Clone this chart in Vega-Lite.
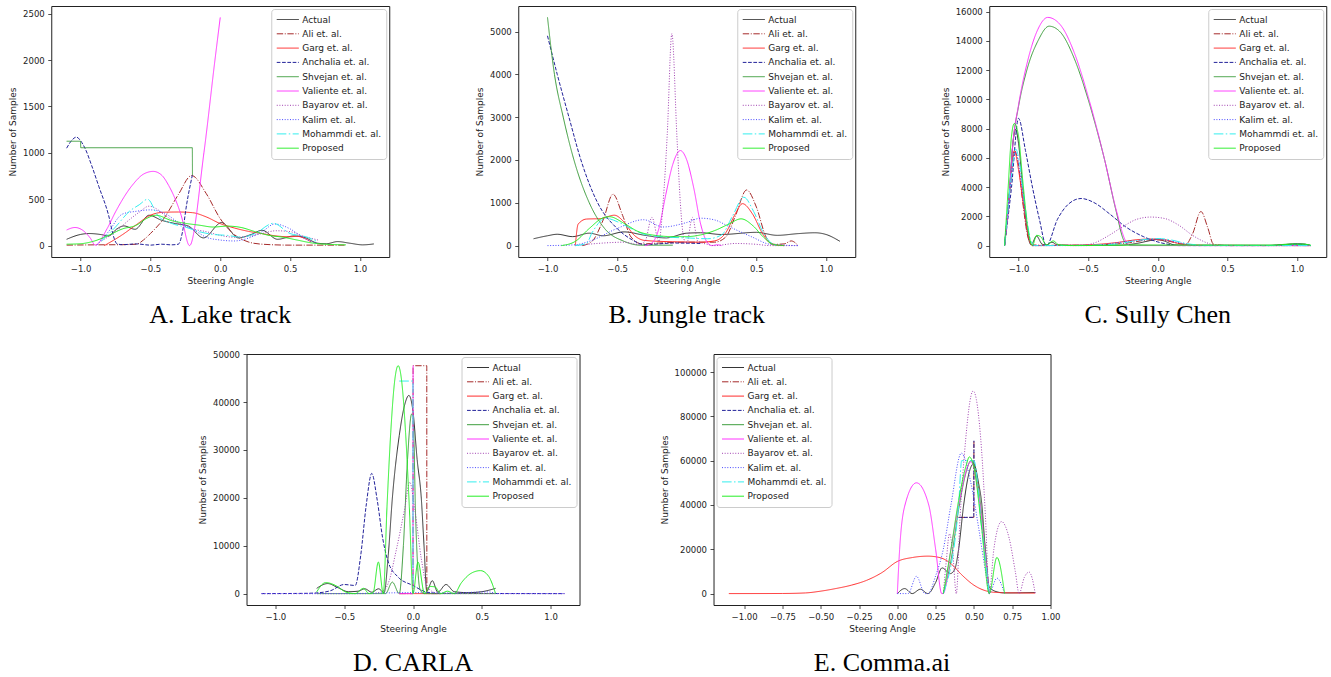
{
  "$schema": "https://vega.github.io/schema/vega-lite/v6.json",
  "background": "white",
  "padding": {"left": 8, "top": 5, "right": 5, "bottom": 0},
  "config": {
    "view": {"stroke": "#222222", "strokeWidth": 1},
    "axis": {"domain": false, "grid": false, "tickColor": "#222222", "tickSize": 3.5, "tickWidth": 0.8, "labelFont": "DejaVu Sans", "labelFontSize": 8.5, "labelColor": "#222222", "labelPadding": 3.5, "labelFlush": false, "labelOverlap": false, "labelBound": false, "titleFont": "DejaVu Sans", "titleFontSize": 9, "titleFontWeight": "normal", "titleColor": "#222222", "titlePadding": 4},
    "axisY": {"titlePadding": 5},
    "legend": {"labelFont": "DejaVu Sans", "labelFontSize": 9, "labelColor": "#222222", "symbolType": "M-1,0H3.4", "symbolSize": 100, "symbolStrokeWidth": 1.2, "rowPadding": 3.3, "padding": 5, "offset": 3, "fillColor": "rgba(255,255,255,0.85)", "strokeColor": "#cccccc", "cornerRadius": 3, "labelOffset": 15, "titlePadding": 0},
    "title": {"font": "Liberation Serif", "fontSize": 26, "fontWeight": "normal", "color": "#000000", "orient": "bottom", "offset": 16, "frame": "group", "anchor": "middle"}
  },
  "datasets": {
    "A": [
      {"s":"Actual","x":-1.1,"y":68},{"s":"Actual","x":-1.0,"y":120},{"s":"Actual","x":-0.94,"y":130},{"s":"Actual","x":-0.85,"y":118},{"s":"Actual","x":-0.8,"y":104},{"s":"Actual","x":-0.74,"y":180},{"s":"Actual","x":-0.69,"y":212},{"s":"Actual","x":-0.61,"y":176},{"s":"Actual","x":-0.51,"y":327},{"s":"Actual","x":-0.42,"y":273},{"s":"Actual","x":-0.32,"y":237},{"s":"Actual","x":-0.23,"y":212},{"s":"Actual","x":-0.12,"y":83},{"s":"Actual","x":0.01,"y":248},{"s":"Actual","x":0.13,"y":83},{"s":"Actual","x":0.22,"y":119},{"s":"Actual","x":0.3,"y":165},{"s":"Actual","x":0.41,"y":68},{"s":"Actual","x":0.53,"y":104},{"s":"Actual","x":0.6,"y":90},{"s":"Actual","x":0.7,"y":25},{"s":"Actual","x":0.76,"y":20},{"s":"Actual","x":0.84,"y":43},{"s":"Actual","x":0.93,"y":25},{"s":"Actual","x":1.02,"y":8},{"s":"Actual","x":1.1,"y":18},
      {"s":"Ali et. al.","x":-1.1,"y":5},{"s":"Ali et. al.","x":-0.9,"y":8},{"s":"Ali et. al.","x":-0.7,"y":10},{"s":"Ali et. al.","x":-0.6,"y":15},{"s":"Ali et. al.","x":-0.55,"y":60},{"s":"Ali et. al.","x":-0.5,"y":130},{"s":"Ali et. al.","x":-0.4,"y":300},{"s":"Ali et. al.","x":-0.3,"y":550},{"s":"Ali et. al.","x":-0.205,"y":755},{"s":"Ali et. al.","x":-0.1,"y":560},{"s":"Ali et. al.","x":0.0,"y":290},{"s":"Ali et. al.","x":0.1,"y":120},{"s":"Ali et. al.","x":0.2,"y":40},{"s":"Ali et. al.","x":0.3,"y":15},{"s":"Ali et. al.","x":0.5,"y":5},{"s":"Ali et. al.","x":0.9,"y":5},
      {"s":"Garg et. al.","x":-0.83,"y":0},{"s":"Garg et. al.","x":-0.7,"y":118},{"s":"Garg et. al.","x":-0.6,"y":226},{"s":"Garg et. al.","x":-0.5,"y":327},{"s":"Garg et. al.","x":-0.4,"y":360},{"s":"Garg et. al.","x":-0.3,"y":362},{"s":"Garg et. al.","x":-0.2,"y":355},{"s":"Garg et. al.","x":-0.1,"y":309},{"s":"Garg et. al.","x":0.0,"y":237},{"s":"Garg et. al.","x":0.1,"y":190},{"s":"Garg et. al.","x":0.2,"y":154},{"s":"Garg et. al.","x":0.3,"y":129},{"s":"Garg et. al.","x":0.4,"y":104},{"s":"Garg et. al.","x":0.5,"y":95},{"s":"Garg et. al.","x":0.55,"y":100},{"s":"Garg et. al.","x":0.6,"y":80},{"s":"Garg et. al.","x":0.65,"y":40},
      {"s":"Anchalia et. al.","x":-1.1,"y":1050},{"s":"Anchalia et. al.","x":-1.06,"y":1140},{"s":"Anchalia et. al.","x":-1.03,"y":1170},{"s":"Anchalia et. al.","x":-1.0,"y":1130},{"s":"Anchalia et. al.","x":-0.967,"y":1045},{"s":"Anchalia et. al.","x":-0.92,"y":860},{"s":"Anchalia et. al.","x":-0.87,"y":640},{"s":"Anchalia et. al.","x":-0.8,"y":330},{"s":"Anchalia et. al.","x":-0.76,"y":80},{"s":"Anchalia et. al.","x":-0.74,"y":20},{"s":"Anchalia et. al.","x":-0.7,"y":10},{"s":"Anchalia et. al.","x":-0.6,"y":18},{"s":"Anchalia et. al.","x":-0.5,"y":5},{"s":"Anchalia et. al.","x":-0.42,"y":15},{"s":"Anchalia et. al.","x":-0.35,"y":8},{"s":"Anchalia et. al.","x":-0.3,"y":15},{"s":"Anchalia et. al.","x":-0.27,"y":150},{"s":"Anchalia et. al.","x":-0.24,"y":450},{"s":"Anchalia et. al.","x":-0.2,"y":758},
      {"s":"Shvejan et. al.","x":-1.1,"y":1125},{"s":"Shvejan et. al.","x":-1.0,"y":1125},{"s":"Shvejan et. al.","x":-0.999,"y":1055},{"s":"Shvejan et. al.","x":-0.2,"y":1055},{"s":"Shvejan et. al.","x":-0.199,"y":760},
      {"s":"Valiente et. al.","x":-1.1,"y":168},{"s":"Valiente et. al.","x":-1.04,"y":195},{"s":"Valiente et. al.","x":-0.98,"y":160},{"s":"Valiente et. al.","x":-0.93,"y":80},{"s":"Valiente et. al.","x":-0.895,"y":5},{"s":"Valiente et. al.","x":-0.81,"y":183},{"s":"Valiente et. al.","x":-0.75,"y":363},{"s":"Valiente et. al.","x":-0.63,"y":650},{"s":"Valiente et. al.","x":-0.55,"y":770},{"s":"Valiente et. al.","x":-0.48,"y":800},{"s":"Valiente et. al.","x":-0.42,"y":760},{"s":"Valiente et. al.","x":-0.37,"y":650},{"s":"Valiente et. al.","x":-0.28,"y":327},{"s":"Valiente et. al.","x":-0.22,"y":0},{"s":"Valiente et. al.","x":-0.117,"y":1000},{"s":"Valiente et. al.","x":-0.038,"y":2000},{"s":"Valiente et. al.","x":0.0,"y":2460},
      {"s":"Bayarov et. al.","x":-0.85,"y":50},{"s":"Bayarov et. al.","x":-0.75,"y":150},{"s":"Bayarov et. al.","x":-0.65,"y":280},{"s":"Bayarov et. al.","x":-0.58,"y":360},{"s":"Bayarov et. al.","x":-0.51,"y":425},{"s":"Bayarov et. al.","x":-0.45,"y":390},{"s":"Bayarov et. al.","x":-0.4,"y":330},{"s":"Bayarov et. al.","x":-0.3,"y":240},{"s":"Bayarov et. al.","x":-0.2,"y":180},{"s":"Bayarov et. al.","x":-0.1,"y":150},{"s":"Bayarov et. al.","x":0.0,"y":110},{"s":"Bayarov et. al.","x":0.1,"y":90},{"s":"Bayarov et. al.","x":0.2,"y":100},{"s":"Bayarov et. al.","x":0.3,"y":130},{"s":"Bayarov et. al.","x":0.4,"y":160},{"s":"Bayarov et. al.","x":0.5,"y":150},{"s":"Bayarov et. al.","x":0.6,"y":100},{"s":"Bayarov et. al.","x":0.7,"y":60},
      {"s":"Kalim et. al.","x":-0.88,"y":10},{"s":"Kalim et. al.","x":-0.8,"y":150},{"s":"Kalim et. al.","x":-0.7,"y":340},{"s":"Kalim et. al.","x":-0.6,"y":370},{"s":"Kalim et. al.","x":-0.5,"y":385},{"s":"Kalim et. al.","x":-0.4,"y":350},{"s":"Kalim et. al.","x":-0.3,"y":250},{"s":"Kalim et. al.","x":-0.2,"y":180},{"s":"Kalim et. al.","x":-0.1,"y":90},{"s":"Kalim et. al.","x":0.0,"y":60},{"s":"Kalim et. al.","x":0.1,"y":50},{"s":"Kalim et. al.","x":0.2,"y":80},{"s":"Kalim et. al.","x":0.3,"y":150},{"s":"Kalim et. al.","x":0.39,"y":233},{"s":"Kalim et. al.","x":0.5,"y":180},{"s":"Kalim et. al.","x":0.6,"y":80},{"s":"Kalim et. al.","x":0.7,"y":20},
      {"s":"Mohammdi et. al.","x":-0.85,"y":50},{"s":"Mohammdi et. al.","x":-0.75,"y":200},{"s":"Mohammdi et. al.","x":-0.65,"y":370},{"s":"Mohammdi et. al.","x":-0.58,"y":440},{"s":"Mohammdi et. al.","x":-0.52,"y":500},{"s":"Mohammdi et. al.","x":-0.45,"y":330},{"s":"Mohammdi et. al.","x":-0.35,"y":240},{"s":"Mohammdi et. al.","x":-0.25,"y":200},{"s":"Mohammdi et. al.","x":-0.15,"y":150},{"s":"Mohammdi et. al.","x":-0.05,"y":120},{"s":"Mohammdi et. al.","x":0.05,"y":110},{"s":"Mohammdi et. al.","x":0.15,"y":90},{"s":"Mohammdi et. al.","x":0.25,"y":130},{"s":"Mohammdi et. al.","x":0.38,"y":240},{"s":"Mohammdi et. al.","x":0.5,"y":130},{"s":"Mohammdi et. al.","x":0.6,"y":100},{"s":"Mohammdi et. al.","x":0.7,"y":40},
      {"s":"Proposed","x":-1.1,"y":15},{"s":"Proposed","x":-1.0,"y":20},{"s":"Proposed","x":-0.9,"y":50},{"s":"Proposed","x":-0.8,"y":110},{"s":"Proposed","x":-0.7,"y":180},{"s":"Proposed","x":-0.6,"y":220},{"s":"Proposed","x":-0.53,"y":290},{"s":"Proposed","x":-0.46,"y":327},{"s":"Proposed","x":-0.35,"y":270},{"s":"Proposed","x":-0.25,"y":240},{"s":"Proposed","x":-0.15,"y":220},{"s":"Proposed","x":-0.05,"y":200},{"s":"Proposed","x":0.05,"y":210},{"s":"Proposed","x":0.15,"y":195},{"s":"Proposed","x":0.25,"y":150},{"s":"Proposed","x":0.35,"y":110},{"s":"Proposed","x":0.45,"y":90},{"s":"Proposed","x":0.55,"y":60},{"s":"Proposed","x":0.65,"y":30},{"s":"Proposed","x":0.75,"y":15},{"s":"Proposed","x":0.9,"y":8}
    ],
    "B": [
      {"s":"Actual","x":-1.1,"y":160},{"s":"Actual","x":-1.0,"y":230},{"s":"Actual","x":-0.93,"y":265},{"s":"Actual","x":-0.82,"y":210},{"s":"Actual","x":-0.7,"y":290},{"s":"Actual","x":-0.6,"y":230},{"s":"Actual","x":-0.45,"y":320},{"s":"Actual","x":-0.3,"y":240},{"s":"Actual","x":-0.15,"y":180},{"s":"Actual","x":0.0,"y":290},{"s":"Actual","x":0.1,"y":300},{"s":"Actual","x":0.25,"y":260},{"s":"Actual","x":0.5,"y":310},{"s":"Actual","x":0.65,"y":240},{"s":"Actual","x":0.8,"y":280},{"s":"Actual","x":0.92,"y":300},{"s":"Actual","x":1.0,"y":260},{"s":"Actual","x":1.1,"y":100},
      {"s":"Ali et. al.","x":-0.75,"y":0},{"s":"Ali et. al.","x":-0.68,"y":100},{"s":"Ali et. al.","x":-0.6,"y":600},{"s":"Ali et. al.","x":-0.53,"y":1200},{"s":"Ali et. al.","x":-0.46,"y":700},{"s":"Ali et. al.","x":-0.4,"y":200},{"s":"Ali et. al.","x":-0.32,"y":40},{"s":"Ali et. al.","x":-0.2,"y":60},{"s":"Ali et. al.","x":0.0,"y":80},{"s":"Ali et. al.","x":0.2,"y":80},{"s":"Ali et. al.","x":0.28,"y":200},{"s":"Ali et. al.","x":0.35,"y":700},{"s":"Ali et. al.","x":0.43,"y":1300},{"s":"Ali et. al.","x":0.5,"y":900},{"s":"Ali et. al.","x":0.57,"y":200},{"s":"Ali et. al.","x":0.63,"y":30},{"s":"Ali et. al.","x":0.7,"y":40},{"s":"Ali et. al.","x":0.75,"y":110},{"s":"Ali et. al.","x":0.8,"y":0},
      {"s":"Garg et. al.","x":-0.8,"y":0},{"s":"Garg et. al.","x":-0.78,"y":500},{"s":"Garg et. al.","x":-0.72,"y":620},{"s":"Garg et. al.","x":-0.62,"y":630},{"s":"Garg et. al.","x":-0.52,"y":710},{"s":"Garg et. al.","x":-0.45,"y":550},{"s":"Garg et. al.","x":-0.38,"y":250},{"s":"Garg et. al.","x":-0.3,"y":120},{"s":"Garg et. al.","x":-0.1,"y":90},{"s":"Garg et. al.","x":0.1,"y":80},{"s":"Garg et. al.","x":0.2,"y":110},{"s":"Garg et. al.","x":0.28,"y":300},{"s":"Garg et. al.","x":0.35,"y":750},{"s":"Garg et. al.","x":0.4,"y":980},{"s":"Garg et. al.","x":0.47,"y":750},{"s":"Garg et. al.","x":0.55,"y":250},{"s":"Garg et. al.","x":0.62,"y":20},{"s":"Garg et. al.","x":0.7,"y":0},
      {"s":"Anchalia et. al.","x":-1.0,"y":4900},{"s":"Anchalia et. al.","x":-0.93,"y":4000},{"s":"Anchalia et. al.","x":-0.846,"y":3000},{"s":"Anchalia et. al.","x":-0.76,"y":2000},{"s":"Anchalia et. al.","x":-0.64,"y":1000},{"s":"Anchalia et. al.","x":-0.5,"y":400},{"s":"Anchalia et. al.","x":-0.4,"y":150},{"s":"Anchalia et. al.","x":-0.3,"y":20},{"s":"Anchalia et. al.","x":-0.2,"y":40},{"s":"Anchalia et. al.","x":-0.1,"y":60},{"s":"Anchalia et. al.","x":0.1,"y":50},
      {"s":"Shvejan et. al.","x":-1.0,"y":5330},{"s":"Shvejan et. al.","x":-0.95,"y":4000},{"s":"Shvejan et. al.","x":-0.887,"y":3000},{"s":"Shvejan et. al.","x":-0.81,"y":2000},{"s":"Shvejan et. al.","x":-0.7,"y":1000},{"s":"Shvejan et. al.","x":-0.59,"y":400},{"s":"Shvejan et. al.","x":-0.45,"y":100},{"s":"Shvejan et. al.","x":-0.33,"y":10},{"s":"Shvejan et. al.","x":-0.1,"y":10},
      {"s":"Valiente et. al.","x":-0.3,"y":0},{"s":"Valiente et. al.","x":-0.25,"y":60},{"s":"Valiente et. al.","x":-0.2,"y":400},{"s":"Valiente et. al.","x":-0.15,"y":1200},{"s":"Valiente et. al.","x":-0.1,"y":1900},{"s":"Valiente et. al.","x":-0.046,"y":2220},{"s":"Valiente et. al.","x":0.0,"y":2000},{"s":"Valiente et. al.","x":0.05,"y":1350},{"s":"Valiente et. al.","x":0.1,"y":500},{"s":"Valiente et. al.","x":0.15,"y":60},{"s":"Valiente et. al.","x":0.18,"y":0},{"s":"Valiente et. al.","x":0.22,"y":20},{"s":"Valiente et. al.","x":0.25,"y":0},
      {"s":"Bayarov et. al.","x":-0.8,"y":0},{"s":"Bayarov et. al.","x":-0.6,"y":60},{"s":"Bayarov et. al.","x":-0.45,"y":80},{"s":"Bayarov et. al.","x":-0.35,"y":30},{"s":"Bayarov et. al.","x":-0.3,"y":100},{"s":"Bayarov et. al.","x":-0.25,"y":660},{"s":"Bayarov et. al.","x":-0.2,"y":100},{"s":"Bayarov et. al.","x":-0.17,"y":1000},{"s":"Bayarov et. al.","x":-0.14,"y":2600},{"s":"Bayarov et. al.","x":-0.107,"y":4950},{"s":"Bayarov et. al.","x":-0.07,"y":2500},{"s":"Bayarov et. al.","x":-0.046,"y":1000},{"s":"Bayarov et. al.","x":-0.02,"y":150},{"s":"Bayarov et. al.","x":0.0,"y":50},{"s":"Bayarov et. al.","x":0.04,"y":660},{"s":"Bayarov et. al.","x":0.08,"y":100},{"s":"Bayarov et. al.","x":0.15,"y":30},{"s":"Bayarov et. al.","x":0.2,"y":0},{"s":"Bayarov et. al.","x":0.35,"y":50},{"s":"Bayarov et. al.","x":0.5,"y":30},{"s":"Bayarov et. al.","x":0.6,"y":0},{"s":"Bayarov et. al.","x":0.8,"y":0},
      {"s":"Kalim et. al.","x":-1.0,"y":0},{"s":"Kalim et. al.","x":-0.8,"y":20},{"s":"Kalim et. al.","x":-0.7,"y":100},{"s":"Kalim et. al.","x":-0.5,"y":400},{"s":"Kalim et. al.","x":-0.31,"y":605},{"s":"Kalim et. al.","x":-0.17,"y":435},{"s":"Kalim et. al.","x":0.0,"y":540},{"s":"Kalim et. al.","x":0.1,"y":640},{"s":"Kalim et. al.","x":0.2,"y":600},{"s":"Kalim et. al.","x":0.3,"y":450},{"s":"Kalim et. al.","x":0.47,"y":200},{"s":"Kalim et. al.","x":0.6,"y":30},{"s":"Kalim et. al.","x":0.8,"y":0},
      {"s":"Mohammdi et. al.","x":-0.8,"y":0},{"s":"Mohammdi et. al.","x":-0.72,"y":50},{"s":"Mohammdi et. al.","x":-0.68,"y":300},{"s":"Mohammdi et. al.","x":-0.58,"y":640},{"s":"Mohammdi et. al.","x":-0.5,"y":560},{"s":"Mohammdi et. al.","x":-0.4,"y":400},{"s":"Mohammdi et. al.","x":-0.3,"y":260},{"s":"Mohammdi et. al.","x":-0.15,"y":200},{"s":"Mohammdi et. al.","x":0.0,"y":180},{"s":"Mohammdi et. al.","x":0.15,"y":160},{"s":"Mohammdi et. al.","x":0.25,"y":250},{"s":"Mohammdi et. al.","x":0.33,"y":700},{"s":"Mohammdi et. al.","x":0.41,"y":1130},{"s":"Mohammdi et. al.","x":0.48,"y":800},{"s":"Mohammdi et. al.","x":0.55,"y":300},{"s":"Mohammdi et. al.","x":0.62,"y":30},{"s":"Mohammdi et. al.","x":0.65,"y":0},
      {"s":"Proposed","x":-0.9,"y":0},{"s":"Proposed","x":-0.8,"y":100},{"s":"Proposed","x":-0.7,"y":400},{"s":"Proposed","x":-0.6,"y":650},{"s":"Proposed","x":-0.555,"y":675},{"s":"Proposed","x":-0.45,"y":520},{"s":"Proposed","x":-0.35,"y":330},{"s":"Proposed","x":-0.25,"y":250},{"s":"Proposed","x":-0.1,"y":210},{"s":"Proposed","x":0.0,"y":210},{"s":"Proposed","x":0.1,"y":250},{"s":"Proposed","x":0.2,"y":350},{"s":"Proposed","x":0.3,"y":500},{"s":"Proposed","x":0.39,"y":625},{"s":"Proposed","x":0.48,"y":450},{"s":"Proposed","x":0.55,"y":200},{"s":"Proposed","x":0.62,"y":30},{"s":"Proposed","x":0.7,"y":0}
    ],
    "C": [
      {"s":"Actual","x":-1.1,"y":0},{"s":"Actual","x":-1.07,"y":3000},{"s":"Actual","x":-1.04,"y":7000},{"s":"Actual","x":-1.02,"y":7950},{"s":"Actual","x":-1.0,"y":7000},{"s":"Actual","x":-0.97,"y":4000},{"s":"Actual","x":-0.94,"y":1200},{"s":"Actual","x":-0.91,"y":50},{"s":"Actual","x":-0.87,"y":650},{"s":"Actual","x":-0.83,"y":100},{"s":"Actual","x":-0.8,"y":50},{"s":"Actual","x":-0.76,"y":230},{"s":"Actual","x":-0.72,"y":50},{"s":"Actual","x":-0.6,"y":20},{"s":"Actual","x":-0.3,"y":20},{"s":"Actual","x":-0.15,"y":150},{"s":"Actual","x":-0.05,"y":350},{"s":"Actual","x":0.0,"y":430},{"s":"Actual","x":0.05,"y":300},{"s":"Actual","x":0.12,"y":50},{"s":"Actual","x":0.3,"y":10},{"s":"Actual","x":0.8,"y":10},{"s":"Actual","x":0.9,"y":60},{"s":"Actual","x":1.0,"y":120},{"s":"Actual","x":1.05,"y":100},{"s":"Actual","x":1.1,"y":0},
      {"s":"Ali et. al.","x":-1.1,"y":0},{"s":"Ali et. al.","x":-1.06,"y":4000},{"s":"Ali et. al.","x":-1.03,"y":6500},{"s":"Ali et. al.","x":-1.0,"y":5500},{"s":"Ali et. al.","x":-0.97,"y":3000},{"s":"Ali et. al.","x":-0.93,"y":500},{"s":"Ali et. al.","x":-0.9,"y":50},{"s":"Ali et. al.","x":-0.8,"y":20},{"s":"Ali et. al.","x":-0.5,"y":30},{"s":"Ali et. al.","x":-0.2,"y":200},{"s":"Ali et. al.","x":-0.05,"y":400},{"s":"Ali et. al.","x":0.05,"y":350},{"s":"Ali et. al.","x":0.2,"y":80},{"s":"Ali et. al.","x":0.25,"y":800},{"s":"Ali et. al.","x":0.31,"y":2330},{"s":"Ali et. al.","x":0.36,"y":1200},{"s":"Ali et. al.","x":0.4,"y":100},{"s":"Ali et. al.","x":0.5,"y":0},{"s":"Ali et. al.","x":1.1,"y":0},
      {"s":"Garg et. al.","x":-1.1,"y":0},{"s":"Garg et. al.","x":-1.06,"y":4000},{"s":"Garg et. al.","x":-1.03,"y":6500},{"s":"Garg et. al.","x":-1.0,"y":5200},{"s":"Garg et. al.","x":-0.96,"y":2500},{"s":"Garg et. al.","x":-0.92,"y":300},{"s":"Garg et. al.","x":-0.9,"y":0},{"s":"Garg et. al.","x":-0.6,"y":20},{"s":"Garg et. al.","x":-0.3,"y":200},{"s":"Garg et. al.","x":-0.15,"y":400},{"s":"Garg et. al.","x":-0.05,"y":450},{"s":"Garg et. al.","x":0.05,"y":400},{"s":"Garg et. al.","x":0.15,"y":150},{"s":"Garg et. al.","x":0.3,"y":30},{"s":"Garg et. al.","x":1.1,"y":0},
      {"s":"Anchalia et. al.","x":-1.1,"y":0},{"s":"Anchalia et. al.","x":-1.05,"y":4000},{"s":"Anchalia et. al.","x":-1.0,"y":8700},{"s":"Anchalia et. al.","x":-0.95,"y":6500},{"s":"Anchalia et. al.","x":-0.9,"y":4000},{"s":"Anchalia et. al.","x":-0.85,"y":1800},{"s":"Anchalia et. al.","x":-0.8,"y":0},{"s":"Anchalia et. al.","x":-0.72,"y":1800},{"s":"Anchalia et. al.","x":-0.64,"y":2850},{"s":"Anchalia et. al.","x":-0.55,"y":3220},{"s":"Anchalia et. al.","x":-0.45,"y":2900},{"s":"Anchalia et. al.","x":-0.35,"y":2200},{"s":"Anchalia et. al.","x":-0.23,"y":1280},{"s":"Anchalia et. al.","x":-0.1,"y":600},{"s":"Anchalia et. al.","x":0.0,"y":250},{"s":"Anchalia et. al.","x":0.1,"y":50},{"s":"Anchalia et. al.","x":0.15,"y":0},{"s":"Anchalia et. al.","x":0.8,"y":0},{"s":"Anchalia et. al.","x":0.9,"y":50},{"s":"Anchalia et. al.","x":1.0,"y":100},{"s":"Anchalia et. al.","x":1.1,"y":0},
      {"s":"Shvejan et. al.","x":-1.1,"y":0},{"s":"Shvejan et. al.","x":-1.07,"y":3000},{"s":"Shvejan et. al.","x":-1.04,"y":7000},{"s":"Shvejan et. al.","x":-1.0,"y":9500},{"s":"Shvejan et. al.","x":-0.94,"y":12000},{"s":"Shvejan et. al.","x":-0.86,"y":14000},{"s":"Shvejan et. al.","x":-0.78,"y":15000},{"s":"Shvejan et. al.","x":-0.7,"y":14600},{"s":"Shvejan et. al.","x":-0.6,"y":12800},{"s":"Shvejan et. al.","x":-0.5,"y":10000},{"s":"Shvejan et. al.","x":-0.44,"y":8000},{"s":"Shvejan et. al.","x":-0.38,"y":5800},{"s":"Shvejan et. al.","x":-0.3,"y":2400},{"s":"Shvejan et. al.","x":-0.24,"y":300},{"s":"Shvejan et. al.","x":-0.2,"y":50},{"s":"Shvejan et. al.","x":0.0,"y":20},{"s":"Shvejan et. al.","x":0.8,"y":20},{"s":"Shvejan et. al.","x":0.95,"y":100},{"s":"Shvejan et. al.","x":1.05,"y":100},{"s":"Shvejan et. al.","x":1.1,"y":0},
      {"s":"Valiente et. al.","x":-1.1,"y":0},{"s":"Valiente et. al.","x":-1.07,"y":3000},{"s":"Valiente et. al.","x":-1.04,"y":7000},{"s":"Valiente et. al.","x":-1.0,"y":9600},{"s":"Valiente et. al.","x":-0.94,"y":12400},{"s":"Valiente et. al.","x":-0.86,"y":14800},{"s":"Valiente et. al.","x":-0.79,"y":15600},{"s":"Valiente et. al.","x":-0.7,"y":15100},{"s":"Valiente et. al.","x":-0.6,"y":13200},{"s":"Valiente et. al.","x":-0.5,"y":10200},{"s":"Valiente et. al.","x":-0.44,"y":8100},{"s":"Valiente et. al.","x":-0.38,"y":5800},{"s":"Valiente et. al.","x":-0.3,"y":2500},{"s":"Valiente et. al.","x":-0.23,"y":300},{"s":"Valiente et. al.","x":-0.2,"y":0},{"s":"Valiente et. al.","x":1.1,"y":0},
      {"s":"Bayarov et. al.","x":-0.9,"y":0},{"s":"Bayarov et. al.","x":-0.55,"y":20},{"s":"Bayarov et. al.","x":-0.45,"y":200},{"s":"Bayarov et. al.","x":-0.35,"y":700},{"s":"Bayarov et. al.","x":-0.25,"y":1300},{"s":"Bayarov et. al.","x":-0.15,"y":1800},{"s":"Bayarov et. al.","x":-0.05,"y":1950},{"s":"Bayarov et. al.","x":0.05,"y":1850},{"s":"Bayarov et. al.","x":0.15,"y":1400},{"s":"Bayarov et. al.","x":0.25,"y":700},{"s":"Bayarov et. al.","x":0.35,"y":200},{"s":"Bayarov et. al.","x":0.42,"y":20},{"s":"Bayarov et. al.","x":1.1,"y":0},
      {"s":"Kalim et. al.","x":-1.1,"y":0},{"s":"Kalim et. al.","x":-1.06,"y":4000},{"s":"Kalim et. al.","x":-1.02,"y":6400},{"s":"Kalim et. al.","x":-0.99,"y":5000},{"s":"Kalim et. al.","x":-0.95,"y":2000},{"s":"Kalim et. al.","x":-0.9,"y":0},{"s":"Kalim et. al.","x":-0.5,"y":0},{"s":"Kalim et. al.","x":-0.2,"y":300},{"s":"Kalim et. al.","x":0.0,"y":450},{"s":"Kalim et. al.","x":0.1,"y":300},{"s":"Kalim et. al.","x":0.3,"y":0},{"s":"Kalim et. al.","x":0.9,"y":0},{"s":"Kalim et. al.","x":1.0,"y":100},{"s":"Kalim et. al.","x":1.1,"y":0},
      {"s":"Mohammdi et. al.","x":-1.1,"y":0},{"s":"Mohammdi et. al.","x":-1.06,"y":4000},{"s":"Mohammdi et. al.","x":-1.02,"y":6600},{"s":"Mohammdi et. al.","x":-0.99,"y":5500},{"s":"Mohammdi et. al.","x":-0.95,"y":2500},{"s":"Mohammdi et. al.","x":-0.91,"y":300},{"s":"Mohammdi et. al.","x":-0.88,"y":0},{"s":"Mohammdi et. al.","x":-0.6,"y":10},{"s":"Mohammdi et. al.","x":-0.3,"y":100},{"s":"Mohammdi et. al.","x":-0.15,"y":350},{"s":"Mohammdi et. al.","x":0.0,"y":480},{"s":"Mohammdi et. al.","x":0.1,"y":380},{"s":"Mohammdi et. al.","x":0.2,"y":150},{"s":"Mohammdi et. al.","x":0.35,"y":20},{"s":"Mohammdi et. al.","x":1.1,"y":0},
      {"s":"Proposed","x":-1.1,"y":0},{"s":"Proposed","x":-1.08,"y":3000},{"s":"Proposed","x":-1.05,"y":7500},{"s":"Proposed","x":-1.03,"y":8350},{"s":"Proposed","x":-1.0,"y":7500},{"s":"Proposed","x":-0.97,"y":4500},{"s":"Proposed","x":-0.93,"y":1000},{"s":"Proposed","x":-0.9,"y":0},{"s":"Proposed","x":-0.87,"y":700},{"s":"Proposed","x":-0.84,"y":600},{"s":"Proposed","x":-0.8,"y":50},{"s":"Proposed","x":-0.75,"y":320},{"s":"Proposed","x":-0.71,"y":50},{"s":"Proposed","x":-0.6,"y":0},{"s":"Proposed","x":-0.2,"y":30},{"s":"Proposed","x":0.5,"y":30},{"s":"Proposed","x":0.85,"y":30},{"s":"Proposed","x":0.97,"y":100},{"s":"Proposed","x":1.05,"y":90},{"s":"Proposed","x":1.1,"y":20}
    ],
    "D": [
      {"s":"Actual","x":-0.7,"y":1100},{"s":"Actual","x":-0.62,"y":2100},{"s":"Actual","x":-0.55,"y":1300},{"s":"Actual","x":-0.47,"y":400},{"s":"Actual","x":-0.4,"y":500},{"s":"Actual","x":-0.35,"y":1000},{"s":"Actual","x":-0.3,"y":300},{"s":"Actual","x":-0.25,"y":1000},{"s":"Actual","x":-0.21,"y":200},{"s":"Actual","x":-0.18,"y":8000},{"s":"Actual","x":-0.15,"y":20000},{"s":"Actual","x":-0.1,"y":33000},{"s":"Actual","x":-0.06,"y":39500},{"s":"Actual","x":-0.03,"y":41400},{"s":"Actual","x":0.0,"y":38000},{"s":"Actual","x":0.03,"y":28000},{"s":"Actual","x":0.06,"y":20000},{"s":"Actual","x":0.08,"y":10000},{"s":"Actual","x":0.1,"y":500},{"s":"Actual","x":0.14,"y":2700},{"s":"Actual","x":0.18,"y":300},{"s":"Actual","x":0.24,"y":1900},{"s":"Actual","x":0.3,"y":400},{"s":"Actual","x":0.4,"y":200},{"s":"Actual","x":0.5,"y":400},{"s":"Actual","x":0.6,"y":1100},
      {"s":"Ali et. al.","x":-0.1,"y":0},{"s":"Ali et. al.","x":0.0,"y":0},{"s":"Ali et. al.","x":0.0005,"y":47600},{"s":"Ali et. al.","x":0.1,"y":47600},{"s":"Ali et. al.","x":0.1005,"y":0},{"s":"Ali et. al.","x":0.2,"y":0},
      {"s":"Garg et. al.","x":-0.1,"y":0},{"s":"Garg et. al.","x":0.2,"y":0},
      {"s":"Anchalia et. al.","x":-1.1,"y":0},{"s":"Anchalia et. al.","x":-0.8,"y":50},{"s":"Anchalia et. al.","x":-0.7,"y":150},{"s":"Anchalia et. al.","x":-0.6,"y":600},{"s":"Anchalia et. al.","x":-0.5,"y":1900},{"s":"Anchalia et. al.","x":-0.42,"y":1700},{"s":"Anchalia et. al.","x":-0.38,"y":8000},{"s":"Anchalia et. al.","x":-0.34,"y":18500},{"s":"Anchalia et. al.","x":-0.3,"y":25100},{"s":"Anchalia et. al.","x":-0.26,"y":19500},{"s":"Anchalia et. al.","x":-0.22,"y":11500},{"s":"Anchalia et. al.","x":-0.18,"y":6600},{"s":"Anchalia et. al.","x":-0.11,"y":3500},{"s":"Anchalia et. al.","x":0.0,"y":1700},{"s":"Anchalia et. al.","x":0.1,"y":300},{"s":"Anchalia et. al.","x":0.2,"y":50},{"s":"Anchalia et. al.","x":1.1,"y":0},
      {"s":"Shvejan et. al.","x":-0.7,"y":0},{"s":"Shvejan et. al.","x":-0.2,"y":0},{"s":"Shvejan et. al.","x":-0.15,"y":2400},{"s":"Shvejan et. al.","x":-0.1,"y":0},{"s":"Shvejan et. al.","x":-0.07,"y":10000},{"s":"Shvejan et. al.","x":-0.04,"y":28000},{"s":"Shvejan et. al.","x":-0.01,"y":37500},{"s":"Shvejan et. al.","x":0.0,"y":37000},{"s":"Shvejan et. al.","x":0.02,"y":15000},{"s":"Shvejan et. al.","x":0.05,"y":1000},{"s":"Shvejan et. al.","x":0.08,"y":0},{"s":"Shvejan et. al.","x":0.6,"y":0},
      {"s":"Valiente et. al.","x":-0.1,"y":0},{"s":"Valiente et. al.","x":0.0,"y":0},{"s":"Valiente et. al.","x":0.0005,"y":47600},{"s":"Valiente et. al.","x":0.003,"y":47600},
      {"s":"Bayarov et. al.","x":-1.1,"y":0},{"s":"Bayarov et. al.","x":-0.3,"y":0},{"s":"Bayarov et. al.","x":-0.22,"y":500},{"s":"Bayarov et. al.","x":-0.17,"y":3000},{"s":"Bayarov et. al.","x":-0.13,"y":8000},{"s":"Bayarov et. al.","x":-0.06,"y":17800},{"s":"Bayarov et. al.","x":-0.024,"y":23300},{"s":"Bayarov et. al.","x":0.012,"y":17800},{"s":"Bayarov et. al.","x":0.06,"y":7300},{"s":"Bayarov et. al.","x":0.1,"y":1700},{"s":"Bayarov et. al.","x":0.15,"y":300},{"s":"Bayarov et. al.","x":0.2,"y":0},{"s":"Bayarov et. al.","x":1.1,"y":0},
      {"s":"Kalim et. al.","x":-1.1,"y":0},{"s":"Kalim et. al.","x":-0.5,"y":0},{"s":"Kalim et. al.","x":0.0,"y":200},{"s":"Kalim et. al.","x":0.3,"y":100},{"s":"Kalim et. al.","x":0.45,"y":300},{"s":"Kalim et. al.","x":0.55,"y":350},{"s":"Kalim et. al.","x":0.62,"y":0},{"s":"Kalim et. al.","x":1.1,"y":0},
      {"s":"Mohammdi et. al.","x":-0.1,"y":44400},{"s":"Mohammdi et. al.","x":-0.0005,"y":44400},{"s":"Mohammdi et. al.","x":0.0,"y":0},{"s":"Mohammdi et. al.","x":0.003,"y":0},
      {"s":"Proposed","x":-0.7,"y":350},{"s":"Proposed","x":-0.635,"y":2300},{"s":"Proposed","x":-0.55,"y":1500},{"s":"Proposed","x":-0.49,"y":350},{"s":"Proposed","x":-0.42,"y":0},{"s":"Proposed","x":-0.36,"y":1100},{"s":"Proposed","x":-0.32,"y":0},{"s":"Proposed","x":-0.29,"y":200},{"s":"Proposed","x":-0.252,"y":6600},{"s":"Proposed","x":-0.216,"y":0},{"s":"Proposed","x":-0.189,"y":18200},{"s":"Proposed","x":-0.162,"y":33600},{"s":"Proposed","x":-0.135,"y":44000},{"s":"Proposed","x":-0.108,"y":47600},{"s":"Proposed","x":-0.081,"y":44000},{"s":"Proposed","x":-0.054,"y":33600},{"s":"Proposed","x":-0.027,"y":18200},{"s":"Proposed","x":0.0,"y":0},{"s":"Proposed","x":0.036,"y":6600},{"s":"Proposed","x":0.084,"y":0},{"s":"Proposed","x":0.12,"y":1500},{"s":"Proposed","x":0.16,"y":1400},{"s":"Proposed","x":0.2,"y":0},{"s":"Proposed","x":0.25,"y":500},{"s":"Proposed","x":0.3,"y":0},{"s":"Proposed","x":0.35,"y":2200},{"s":"Proposed","x":0.42,"y":4200},{"s":"Proposed","x":0.49,"y":4800},{"s":"Proposed","x":0.55,"y":3600},{"s":"Proposed","x":0.6,"y":0}
    ],
    "E": [
      {"s":"Actual","x":0.0,"y":0},{"s":"Actual","x":0.048,"y":2260},{"s":"Actual","x":0.097,"y":0},{"s":"Actual","x":0.15,"y":1960},{"s":"Actual","x":0.2,"y":0},{"s":"Actual","x":0.25,"y":5000},{"s":"Actual","x":0.292,"y":11600},{"s":"Actual","x":0.346,"y":9040},{"s":"Actual","x":0.375,"y":11000},{"s":"Actual","x":0.4,"y":20000},{"s":"Actual","x":0.433,"y":40000},{"s":"Actual","x":0.47,"y":55000},{"s":"Actual","x":0.498,"y":58600},{"s":"Actual","x":0.53,"y":50000},{"s":"Actual","x":0.552,"y":40000},{"s":"Actual","x":0.574,"y":20000},{"s":"Actual","x":0.6,"y":3000},{"s":"Actual","x":0.65,"y":800},{"s":"Actual","x":0.7,"y":300},{"s":"Actual","x":0.9,"y":500},
      {"s":"Ali et. al.","x":0.4,"y":34400},{"s":"Ali et. al.","x":0.499,"y":34400},{"s":"Ali et. al.","x":0.5,"y":69000},
      {"s":"Garg et. al.","x":-1.1,"y":0},{"s":"Garg et. al.","x":-0.75,"y":50},{"s":"Garg et. al.","x":-0.6,"y":300},{"s":"Garg et. al.","x":-0.5,"y":1100},{"s":"Garg et. al.","x":-0.4,"y":2300},{"s":"Garg et. al.","x":-0.3,"y":3800},{"s":"Garg et. al.","x":-0.2,"y":6000},{"s":"Garg et. al.","x":-0.1,"y":9500},{"s":"Garg et. al.","x":0.0,"y":14500},{"s":"Garg et. al.","x":0.1,"y":16300},{"s":"Garg et. al.","x":0.2,"y":16900},{"s":"Garg et. al.","x":0.28,"y":16200},{"s":"Garg et. al.","x":0.35,"y":13500},{"s":"Garg et. al.","x":0.42,"y":8500},{"s":"Garg et. al.","x":0.5,"y":3800},{"s":"Garg et. al.","x":0.58,"y":1200},{"s":"Garg et. al.","x":0.65,"y":500},{"s":"Garg et. al.","x":0.9,"y":200},
      {"s":"Anchalia et. al.","x":0.4,"y":34400},{"s":"Anchalia et. al.","x":0.499,"y":34400},{"s":"Anchalia et. al.","x":0.5,"y":69000},
      {"s":"Shvejan et. al.","x":0.3,"y":0},{"s":"Shvejan et. al.","x":0.35,"y":15000},{"s":"Shvejan et. al.","x":0.4,"y":38000},{"s":"Shvejan et. al.","x":0.45,"y":55000},{"s":"Shvejan et. al.","x":0.48,"y":60000},{"s":"Shvejan et. al.","x":0.52,"y":52000},{"s":"Shvejan et. al.","x":0.56,"y":30000},{"s":"Shvejan et. al.","x":0.6,"y":0},
      {"s":"Valiente et. al.","x":0.0,"y":0},{"s":"Valiente et. al.","x":0.015,"y":20000},{"s":"Valiente et. al.","x":0.05,"y":40000},{"s":"Valiente et. al.","x":0.125,"y":50000},{"s":"Valiente et. al.","x":0.205,"y":40000},{"s":"Valiente et. al.","x":0.25,"y":20000},{"s":"Valiente et. al.","x":0.29,"y":0},{"s":"Valiente et. al.","x":0.3,"y":0},{"s":"Valiente et. al.","x":0.35,"y":20000},{"s":"Valiente et. al.","x":0.4,"y":40000},{"s":"Valiente et. al.","x":0.48,"y":59500},{"s":"Valiente et. al.","x":0.53,"y":45000},{"s":"Valiente et. al.","x":0.57,"y":20000},{"s":"Valiente et. al.","x":0.6,"y":0},
      {"s":"Bayarov et. al.","x":0.3,"y":0},{"s":"Bayarov et. al.","x":0.32,"y":15000},{"s":"Bayarov et. al.","x":0.34,"y":27000},{"s":"Bayarov et. al.","x":0.36,"y":20000},{"s":"Bayarov et. al.","x":0.385,"y":0},{"s":"Bayarov et. al.","x":0.41,"y":35000},{"s":"Bayarov et. al.","x":0.44,"y":64700},{"s":"Bayarov et. al.","x":0.495,"y":91500},{"s":"Bayarov et. al.","x":0.55,"y":64700},{"s":"Bayarov et. al.","x":0.575,"y":35000},{"s":"Bayarov et. al.","x":0.6,"y":0},{"s":"Bayarov et. al.","x":0.63,"y":20000},{"s":"Bayarov et. al.","x":0.68,"y":32500},{"s":"Bayarov et. al.","x":0.73,"y":25000},{"s":"Bayarov et. al.","x":0.77,"y":10000},{"s":"Bayarov et. al.","x":0.795,"y":0},{"s":"Bayarov et. al.","x":0.83,"y":7500},{"s":"Bayarov et. al.","x":0.86,"y":9700},{"s":"Bayarov et. al.","x":0.88,"y":7000},{"s":"Bayarov et. al.","x":0.9,"y":0},
      {"s":"Kalim et. al.","x":0.0,"y":0},{"s":"Kalim et. al.","x":0.07,"y":0},{"s":"Kalim et. al.","x":0.125,"y":7800},{"s":"Kalim et. al.","x":0.18,"y":0},{"s":"Kalim et. al.","x":0.2,"y":0},{"s":"Kalim et. al.","x":0.25,"y":8000},{"s":"Kalim et. al.","x":0.3,"y":20000},{"s":"Kalim et. al.","x":0.35,"y":40000},{"s":"Kalim et. al.","x":0.418,"y":63400},{"s":"Kalim et. al.","x":0.48,"y":50000},{"s":"Kalim et. al.","x":0.53,"y":30000},{"s":"Kalim et. al.","x":0.58,"y":8000},{"s":"Kalim et. al.","x":0.6,"y":0},{"s":"Kalim et. al.","x":0.65,"y":7000},{"s":"Kalim et. al.","x":0.7,"y":0},
      {"s":"Mohammdi et. al.","x":0.3,"y":0},{"s":"Mohammdi et. al.","x":0.4,"y":40000},{"s":"Mohammdi et. al.","x":0.42,"y":60000},{"s":"Mohammdi et. al.","x":0.5,"y":60000},{"s":"Mohammdi et. al.","x":0.55,"y":30000},{"s":"Mohammdi et. al.","x":0.6,"y":0},
      {"s":"Proposed","x":0.3,"y":0},{"s":"Proposed","x":0.35,"y":20000},{"s":"Proposed","x":0.4,"y":42000},{"s":"Proposed","x":0.45,"y":58000},{"s":"Proposed","x":0.47,"y":61700},{"s":"Proposed","x":0.5,"y":57000},{"s":"Proposed","x":0.55,"y":30000},{"s":"Proposed","x":0.6,"y":0},{"s":"Proposed","x":0.65,"y":16300},{"s":"Proposed","x":0.7,"y":0}
    ]
  },
  "center": true,
  "spacing": 21,
  "resolve": {"scale": {"color": "independent", "strokeDash": "independent", "strokeWidth": "independent"}, "legend": {"color": "independent"}},
  "vconcat": [
    {
      "spacing": 84,
      "resolve": {"scale": {"color": "independent", "strokeDash": "independent", "strokeWidth": "independent"}, "legend": {"color": "independent"}},
      "hconcat": [
        {
          "width": 338, "height": 251,
          "data": {"name": "A"},
          "title": {"text": "A. Lake track"},
          "mark": {"type": "line", "interpolate": "monotone", "clip": true},
          "encoding": {
            "x": {"field": "x", "type": "quantitative", "scale": {"domain": [-1.21, 1.21], "nice": false, "zero": false}, "axis": {"values": [-1, -0.5, 0, 0.5, 1], "format": ".1f", "title": "Steering Angle"}},
            "y": {"field": "y", "type": "quantitative", "scale": {"domain": [-123, 2583], "nice": false, "zero": false}, "axis": {"values": [0, 500, 1000, 1500, 2000, 2500], "format": "d", "title": "Number of Samples"}},
            "color": {"field": "s", "type": "nominal", "scale": {"domain": ["Actual","Ali et. al.","Garg et. al.","Anchalia et. al.","Shvejan et. al.","Valiente et. al.","Bayarov et. al.","Kalim et. al.","Mohammdi et. al.","Proposed"], "range": ["#333333","#a52a2a","#ff2a2a","#22229a","#3c9c3c","#ff33ff","#a040b0","#4a4aff","#33eeee","#22ee22"]}, "legend": {"orient": "top-right", "title": null, "encode": {"symbols": {"update": {"strokeDash": {"signal": "datum.value == 'Ali et. al.' ? [6.4,1.6,1,1.6] : datum.value == 'Anchalia et. al.' ? [3.7,1.6] : (datum.value == 'Bayarov et. al.' || datum.value == 'Kalim et. al.') ? [1,1.65] : datum.value == 'Mohammdi et. al.' ? [6,1.6,1.2,1.6] : [1,0]"}, "strokeWidth": {"signal": "datum.value == 'Proposed' ? 2 : datum.value == 'Mohammdi et. al.' ? 1.5 : 1.2"}}}}}},
            "strokeDash": {"field": "s", "type": "nominal", "scale": {"domain": ["Actual","Ali et. al.","Garg et. al.","Anchalia et. al.","Shvejan et. al.","Valiente et. al.","Bayarov et. al.","Kalim et. al.","Mohammdi et. al.","Proposed"], "range": [[1,0],[6.4,1.6,1,1.6],[1,0],[3.7,1.6],[1,0],[1,0],[1,1.65],[1,1.65],[9.6,2.4,1.5,2.4],[1,0]]}, "legend": null},
            "strokeWidth": {"field": "s", "type": "ordinal", "scale": {"domain": ["Actual","Ali et. al.","Garg et. al.","Anchalia et. al.","Shvejan et. al.","Valiente et. al.","Bayarov et. al.","Kalim et. al.","Mohammdi et. al.","Proposed"], "range": [1,1,1,1,1,1,1,1,1.5,2]}, "legend": null}
          }
        },
        {
          "width": 337, "height": 251,
          "data": {"name": "B"},
          "title": {"text": "B. Jungle track"},
          "mark": {"type": "line", "interpolate": "monotone", "clip": true},
          "encoding": {
            "x": {"field": "x", "type": "quantitative", "scale": {"domain": [-1.21, 1.21], "nice": false, "zero": false}, "axis": {"values": [-1, -0.5, 0, 0.5, 1], "format": ".1f", "title": "Steering Angle"}},
            "y": {"field": "y", "type": "quantitative", "scale": {"domain": [-266, 5596], "nice": false, "zero": false}, "axis": {"values": [0, 1000, 2000, 3000, 4000, 5000], "format": "d", "title": "Number of Samples"}},
            "color": {"field": "s", "type": "nominal", "scale": {"domain": ["Actual","Ali et. al.","Garg et. al.","Anchalia et. al.","Shvejan et. al.","Valiente et. al.","Bayarov et. al.","Kalim et. al.","Mohammdi et. al.","Proposed"], "range": ["#333333","#a52a2a","#ff2a2a","#22229a","#3c9c3c","#ff33ff","#a040b0","#4a4aff","#33eeee","#22ee22"]}, "legend": {"orient": "top-right", "title": null, "encode": {"symbols": {"update": {"strokeDash": {"signal": "datum.value == 'Ali et. al.' ? [6.4,1.6,1,1.6] : datum.value == 'Anchalia et. al.' ? [3.7,1.6] : (datum.value == 'Bayarov et. al.' || datum.value == 'Kalim et. al.') ? [1,1.65] : datum.value == 'Mohammdi et. al.' ? [6,1.6,1.2,1.6] : [1,0]"}, "strokeWidth": {"signal": "datum.value == 'Proposed' ? 2 : datum.value == 'Mohammdi et. al.' ? 1.5 : 1.2"}}}}}},
            "strokeDash": {"field": "s", "type": "nominal", "scale": {"domain": ["Actual","Ali et. al.","Garg et. al.","Anchalia et. al.","Shvejan et. al.","Valiente et. al.","Bayarov et. al.","Kalim et. al.","Mohammdi et. al.","Proposed"], "range": [[1,0],[6.4,1.6,1,1.6],[1,0],[3.7,1.6],[1,0],[1,0],[1,1.65],[1,1.65],[9.6,2.4,1.5,2.4],[1,0]]}, "legend": null},
            "strokeWidth": {"field": "s", "type": "ordinal", "scale": {"domain": ["Actual","Ali et. al.","Garg et. al.","Anchalia et. al.","Shvejan et. al.","Valiente et. al.","Bayarov et. al.","Kalim et. al.","Mohammdi et. al.","Proposed"], "range": [1,1,1,1,1,1,1,1,1.5,2]}, "legend": null}
          }
        },
        {
          "width": 337, "height": 251,
          "data": {"name": "C"},
          "title": {"text": "C. Sully Chen"},
          "mark": {"type": "line", "interpolate": "monotone", "clip": true},
          "encoding": {
            "x": {"field": "x", "type": "quantitative", "scale": {"domain": [-1.21, 1.21], "nice": false, "zero": false}, "axis": {"values": [-1, -0.5, 0, 0.5, 1], "format": ".1f", "title": "Steering Angle"}},
            "y": {"field": "y", "type": "quantitative", "scale": {"domain": [-780, 16380], "nice": false, "zero": false}, "axis": {"values": [0, 2000, 4000, 6000, 8000, 10000, 12000, 14000, 16000], "format": "d", "title": "Number of Samples"}},
            "color": {"field": "s", "type": "nominal", "scale": {"domain": ["Actual","Ali et. al.","Garg et. al.","Anchalia et. al.","Shvejan et. al.","Valiente et. al.","Bayarov et. al.","Kalim et. al.","Mohammdi et. al.","Proposed"], "range": ["#333333","#a52a2a","#ff2a2a","#22229a","#3c9c3c","#ff33ff","#a040b0","#4a4aff","#33eeee","#22ee22"]}, "legend": {"orient": "top-right", "title": null, "encode": {"symbols": {"update": {"strokeDash": {"signal": "datum.value == 'Ali et. al.' ? [6.4,1.6,1,1.6] : datum.value == 'Anchalia et. al.' ? [3.7,1.6] : (datum.value == 'Bayarov et. al.' || datum.value == 'Kalim et. al.') ? [1,1.65] : datum.value == 'Mohammdi et. al.' ? [6,1.6,1.2,1.6] : [1,0]"}, "strokeWidth": {"signal": "datum.value == 'Proposed' ? 2 : datum.value == 'Mohammdi et. al.' ? 1.5 : 1.2"}}}}}},
            "strokeDash": {"field": "s", "type": "nominal", "scale": {"domain": ["Actual","Ali et. al.","Garg et. al.","Anchalia et. al.","Shvejan et. al.","Valiente et. al.","Bayarov et. al.","Kalim et. al.","Mohammdi et. al.","Proposed"], "range": [[1,0],[6.4,1.6,1,1.6],[1,0],[3.7,1.6],[1,0],[1,0],[1,1.65],[1,1.65],[9.6,2.4,1.5,2.4],[1,0]]}, "legend": null},
            "strokeWidth": {"field": "s", "type": "ordinal", "scale": {"domain": ["Actual","Ali et. al.","Garg et. al.","Anchalia et. al.","Shvejan et. al.","Valiente et. al.","Bayarov et. al.","Kalim et. al.","Mohammdi et. al.","Proposed"], "range": [1,1,1,1,1,1,1,1,1.5,2]}, "legend": null}
          }
        }
      ]
    },
    {
      "spacing": 79,
      "title": {"text": " ", "orient": "right", "offset": 58, "fontSize": 13},
      "resolve": {"scale": {"color": "independent", "strokeDash": "independent", "strokeWidth": "independent"}, "legend": {"color": "independent"}},
      "hconcat": [
        {
          "width": 333, "height": 251,
          "data": {"name": "D"},
          "title": {"text": "D. CARLA"},
          "mark": {"type": "line", "interpolate": "monotone", "clip": true},
          "encoding": {
            "x": {"field": "x", "type": "quantitative", "scale": {"domain": [-1.21, 1.21], "nice": false, "zero": false}, "axis": {"values": [-1, -0.5, 0, 0.5, 1], "format": ".1f", "title": "Steering Angle"}},
            "y": {"field": "y", "type": "quantitative", "scale": {"domain": [-2380, 50050], "nice": false, "zero": false}, "axis": {"values": [0, 10000, 20000, 30000, 40000, 50000], "format": "d", "title": "Number of Samples"}},
            "color": {"field": "s", "type": "nominal", "scale": {"domain": ["Actual","Ali et. al.","Garg et. al.","Anchalia et. al.","Shvejan et. al.","Valiente et. al.","Bayarov et. al.","Kalim et. al.","Mohammdi et. al.","Proposed"], "range": ["#333333","#a52a2a","#ff2a2a","#22229a","#3c9c3c","#ff33ff","#a040b0","#4a4aff","#33eeee","#22ee22"]}, "legend": {"orient": "top-right", "title": null, "encode": {"symbols": {"update": {"strokeDash": {"signal": "datum.value == 'Ali et. al.' ? [6.4,1.6,1,1.6] : datum.value == 'Anchalia et. al.' ? [3.7,1.6] : (datum.value == 'Bayarov et. al.' || datum.value == 'Kalim et. al.') ? [1,1.65] : datum.value == 'Mohammdi et. al.' ? [6,1.6,1.2,1.6] : [1,0]"}, "strokeWidth": {"signal": "datum.value == 'Proposed' ? 2 : datum.value == 'Mohammdi et. al.' ? 1.5 : 1.2"}}}}}},
            "strokeDash": {"field": "s", "type": "nominal", "scale": {"domain": ["Actual","Ali et. al.","Garg et. al.","Anchalia et. al.","Shvejan et. al.","Valiente et. al.","Bayarov et. al.","Kalim et. al.","Mohammdi et. al.","Proposed"], "range": [[1,0],[6.4,1.6,1,1.6],[1,0],[3.7,1.6],[1,0],[1,0],[1,1.65],[1,1.65],[9.6,2.4,1.5,2.4],[1,0]]}, "legend": null},
            "strokeWidth": {"field": "s", "type": "ordinal", "scale": {"domain": ["Actual","Ali et. al.","Garg et. al.","Anchalia et. al.","Shvejan et. al.","Valiente et. al.","Bayarov et. al.","Kalim et. al.","Mohammdi et. al.","Proposed"], "range": [1,1,1,1,1,1,1,1,1.5,2]}, "legend": null}
          }
        },
        {
          "width": 337, "height": 251,
          "data": {"name": "E"},
          "title": {"text": "E. Comma.ai"},
          "mark": {"type": "line", "interpolate": "monotone", "clip": true},
          "encoding": {
            "x": {"field": "x", "type": "quantitative", "scale": {"domain": [-1.2, 1.0], "nice": false, "zero": false}, "axis": {"values": [-1, -0.75, -0.5, -0.25, 0, 0.25, 0.5, 0.75, 1], "format": ".2f", "title": "Steering Angle"}},
            "y": {"field": "y", "type": "quantitative", "scale": {"domain": [-5150, 108150], "nice": false, "zero": false}, "axis": {"values": [0, 20000, 40000, 60000, 80000, 100000], "format": "d", "title": "Number of Samples"}},
            "color": {"field": "s", "type": "nominal", "scale": {"domain": ["Actual","Ali et. al.","Garg et. al.","Anchalia et. al.","Shvejan et. al.","Valiente et. al.","Bayarov et. al.","Kalim et. al.","Mohammdi et. al.","Proposed"], "range": ["#333333","#a52a2a","#ff2a2a","#22229a","#3c9c3c","#ff33ff","#a040b0","#4a4aff","#33eeee","#22ee22"]}, "legend": {"orient": "top-left", "title": null, "encode": {"symbols": {"update": {"strokeDash": {"signal": "datum.value == 'Ali et. al.' ? [6.4,1.6,1,1.6] : datum.value == 'Anchalia et. al.' ? [3.7,1.6] : (datum.value == 'Bayarov et. al.' || datum.value == 'Kalim et. al.') ? [1,1.65] : datum.value == 'Mohammdi et. al.' ? [6,1.6,1.2,1.6] : [1,0]"}, "strokeWidth": {"signal": "datum.value == 'Proposed' ? 2 : datum.value == 'Mohammdi et. al.' ? 1.5 : 1.2"}}}}}},
            "strokeDash": {"field": "s", "type": "nominal", "scale": {"domain": ["Actual","Ali et. al.","Garg et. al.","Anchalia et. al.","Shvejan et. al.","Valiente et. al.","Bayarov et. al.","Kalim et. al.","Mohammdi et. al.","Proposed"], "range": [[1,0],[6.4,1.6,1,1.6],[1,0],[3.7,1.6],[1,0],[1,0],[1,1.65],[1,1.65],[9.6,2.4,1.5,2.4],[1,0]]}, "legend": null},
            "strokeWidth": {"field": "s", "type": "ordinal", "scale": {"domain": ["Actual","Ali et. al.","Garg et. al.","Anchalia et. al.","Shvejan et. al.","Valiente et. al.","Bayarov et. al.","Kalim et. al.","Mohammdi et. al.","Proposed"], "range": [1,1,1,1,1,1,1,1,1.5,2]}, "legend": null}
          }
        }
      ]
    }
  ]
}
